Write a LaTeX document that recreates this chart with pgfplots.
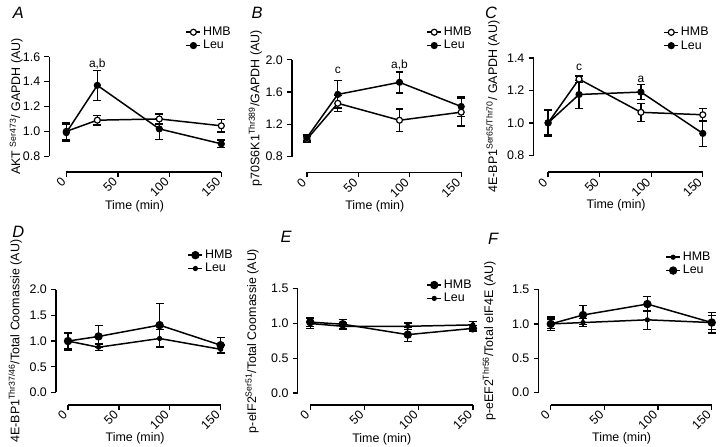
\documentclass[border=0pt]{standalone}
\usepackage{pgfplots}
\pgfplotsset{compat=1.18}
\usepackage{fontspec}
\setmainfont{Liberation Sans}
\begin{document}
\fontsize{12}{14}\selectfont
\pgfplotsset{
  prism/.style={
    scale only axis, clip=false,
    axis x line*=bottom, axis y line*=left,
    axis line style={line width=1.6pt,-},
    every outer x axis line/.append style={-},
    every outer y axis line/.append style={-},
    major tick length=5pt, tick align=outside,
    tick style={line width=1.4pt, black},
    xmin=0, xmax=150, xtick={0,50,100,150},
    /pgf/number format/assume math mode=true,
    tick label style={font=\fontsize{12.5}{14}\selectfont},
    xticklabel style={rotate=45, anchor=east},
    yticklabel style={/pgf/number format/fixed, /pgf/number format/fixed zerofill, /pgf/number format/precision=1},
    xlabel={Time (min)},
    label style={font=\fontsize{12.5}{14}\selectfont},
    xlabel style={at={(axis description cs:0.44,0)}, anchor=center, yshift=-50pt},
    legend style={draw=none, fill=none, font=\fontsize{12.5}{14}\selectfont, inner sep=0pt, row sep=-1pt, anchor=north west},
    legend cell align=left,
    legend image code/.code={\draw[##1, mark repeat=2, mark phase=2] plot coordinates {(0pt,0pt) (7pt,0pt) (14pt,0pt)};},
  },
  lowrow/.style={xlabel style={yshift=3.5pt}},
  ser/.style={black, line width=1.5pt, mark=*, mark size=3pt, mark options={solid, line width=1.2pt},
    error bars/y dir=both, error bars/y explicit, error bars/error bar style={line width=1.4pt, black},
    error bars/error mark options={rotate=90, mark size=4pt, line width=1.4pt, black}},
  open/.style={mark options={fill=white, solid, line width=1.2pt}},
  big/.style={mark size=3.6pt},
  small/.style={mark size=2pt},
}
\begin{tikzpicture}
\useasboundingbox (0,0) rectangle (720pt,449pt);
% ---------- A
\begin{axis}[prism, at={(63.3pt,292pt)}, anchor=south west, width=155.7pt, height=100pt,
  ymin=0.8, ymax=1.6, ytick={0.8,1.0,1.2,1.4,1.6},
  axis x line shift=15.7pt, axis y line shift=17pt,
  ylabel={AKT \textsuperscript{Ser473}/ GAPDH (AU)},
  ylabel style={at={(axis description cs:-0.323,0.5)}, anchor=center},
  legend style={at={(axis description cs:0.769,1.32)}}]
\addplot+[ser, open] coordinates {(0,1.00) +- (0,0.07) (30,1.09) +- (0,0.04) (90,1.10) +- (0,0.04) (150,1.045) +- (0,0.05)};
\addplot+[ser] coordinates {(0,0.99) +- (0,0.07) (30,1.37) +- (0,0.12) (90,1.02) +- (0,0.085) (150,0.90) +- (0,0.03)};
\legend{HMB, Leu}
\node at (axis cs:30,1.54) {a,b};
\end{axis}
% ---------- B
\begin{axis}[prism, at={(305pt,291.7pt)}, anchor=south west, width=155pt, height=97.3pt,
  ymin=0.8, ymax=2.0, ytick={0.8,1.2,1.6,2.0},
  axis x line shift=16pt, axis y line shift=15pt,
  ylabel={p70S6K1\textsuperscript{Thr389}/GAPDH (AU)},
  ylabel style={at={(axis description cs:-0.335,0.5)}, anchor=center},
  legend style={at={(axis description cs:0.774,1.36)}}]
\addplot+[ser, open] coordinates {(0,1.015) +- (0,0.04) (30,1.46) +- (0,0.10) (90,1.25) +- (0,0.14) (150,1.35) +- (0,0.17)};
\addplot+[ser] coordinates {(0,1.035) +- (0,0.04) (30,1.57) +- (0,0.17) (90,1.72) +- (0,0.13) (150,1.42) +- (0,0.12)};
\legend{HMB, Leu}
\node at (axis cs:30,1.87) {c};
\node at (axis cs:90,1.94) {a,b};
\end{axis}
% ---------- C
\begin{axis}[prism, at={(547.3pt,293pt)}, anchor=south west, width=155.4pt, height=97.7pt,
  ymin=0.8, ymax=1.4, ytick={0.8,1.0,1.2,1.4},
  axis x line shift=17pt, axis y line shift=14.6pt,
  ylabel={4E-BP1\textsuperscript{Ser65/Thr70}/ GAPDH (AU)},
  ylabel style={at={(axis description cs:-0.356,0.5)}, anchor=center},
  legend style={at={(axis description cs:0.745,1.34)}}]
\addplot+[ser, open] coordinates {(0,1.00) +- (0,0.08) (30,1.27) +- (0,0.02) (90,1.065) +- (0,0.055) (150,1.05) +- (0,0.04)};
\addplot+[ser] coordinates {(0,1.00) +- (0,0.075) (30,1.175) +- (0,0.085) (90,1.19) +- (0,0.045) (150,0.935) +- (0,0.08)};
\legend{HMB, Leu}
\node at (axis cs:30,1.345) {c};
\node at (axis cs:90,1.27) {a};
\end{axis}
% ---------- D
\begin{axis}[prism, lowrow, at={(65pt,54.7pt)}, anchor=south west, width=153.3pt, height=103.3pt,
  ymin=0, ymax=2.0, ytick={0,0.5,1.0,1.5,2.0},
  axis x line shift=12.4pt, axis y line shift=12pt,
  ylabel={4E-BP1\textsuperscript{Thr37/46}/Total Coomassie (AU)},
  ylabel style={at={(axis description cs:-0.346,0.5)}, anchor=center},
  legend style={at={(axis description cs:0.783,1.407)}}]
\addplot+[ser, big] coordinates {(0,1.00) +- (0,0.17) (30,1.09) +- (0,0.21) (90,1.31) +- (0,0.42) (150,0.92) +- (0,0.15)};
\addplot+[ser, small] coordinates {(0,1.00) +- (0,0.15) (30,0.88) +- (0,0.06) (90,1.05) +- (0,0.18) (150,0.84) +- (0,0.08)};
\legend{HMB, Leu}
\end{axis}
% ---------- E
\begin{axis}[prism, lowrow, at={(308.3pt,54pt)}, anchor=south west, width=163.4pt, height=105pt,
  ymin=0, ymax=1.5, ytick={0,0.5,1.0,1.5},
  axis x line shift=12pt, axis y line shift=12.6pt,
  ylabel={p-eIF2\textsuperscript{Ser51}/Total Coomassie (AU)},
  ylabel style={at={(axis description cs:-0.357,0.5)}, anchor=center},
  legend style={at={(axis description cs:0.714,1.105)}}]
\addplot+[ser, big] coordinates {(0,1.02) +- (0,0.06) (30,0.99) +- (0,0.07) (90,0.84) +- (0,0.10) (150,0.93) +- (0,0.04)};
\addplot+[ser, small] coordinates {(0,1.00) +- (0,0.07) (30,0.96) +- (0,0.05) (90,0.96) +- (0,0.05) (150,0.98) +- (0,0.05)};
\legend{HMB, Leu}
\end{axis}
% ---------- F
\begin{axis}[prism, lowrow, at={(550pt,54.7pt)}, anchor=south west, width=161.7pt, height=103.3pt,
  ymin=0, ymax=1.5, ytick={0,0.5,1.0,1.5},
  axis x line shift=12.4pt, axis y line shift=12.3pt,
  ylabel={p-eEF2\textsuperscript{Thr56}/Total eIF4E (AU)},
  ylabel style={at={(axis description cs:-0.383,0.5)}, anchor=center},
  legend style={at={(axis description cs:0.711,1.387)}}]
\addplot+[ser, small] coordinates {(0,1.00) +- (0,0.07) (30,1.02) +- (0,0.06) (90,1.06) +- (0,0.14) (150,1.02) +- (0,0.10)};
\addplot+[ser, big] coordinates {(0,1.00) +- (0,0.10) (30,1.13) +- (0,0.14) (90,1.29) +- (0,0.11) (150,1.02) +- (0,0.15)};
\legend{HMB, Leu}
\end{axis}
% panel letters
\node[font=\fontsize{16.5}{18}\selectfont\itshape] at (15pt,436pt) {A};
\node[font=\fontsize{16.5}{18}\selectfont\itshape] at (255pt,436pt) {B};
\node[font=\fontsize{16.5}{18}\selectfont\itshape] at (490pt,436pt) {C};
\node[font=\fontsize{16.5}{18}\selectfont\itshape] at (15pt,216pt) {D};
\node[font=\fontsize{16.5}{18}\selectfont\itshape] at (284pt,211pt) {E};
\node[font=\fontsize{16.5}{18}\selectfont\itshape] at (492pt,209pt) {F};
\end{tikzpicture}
\end{document}
